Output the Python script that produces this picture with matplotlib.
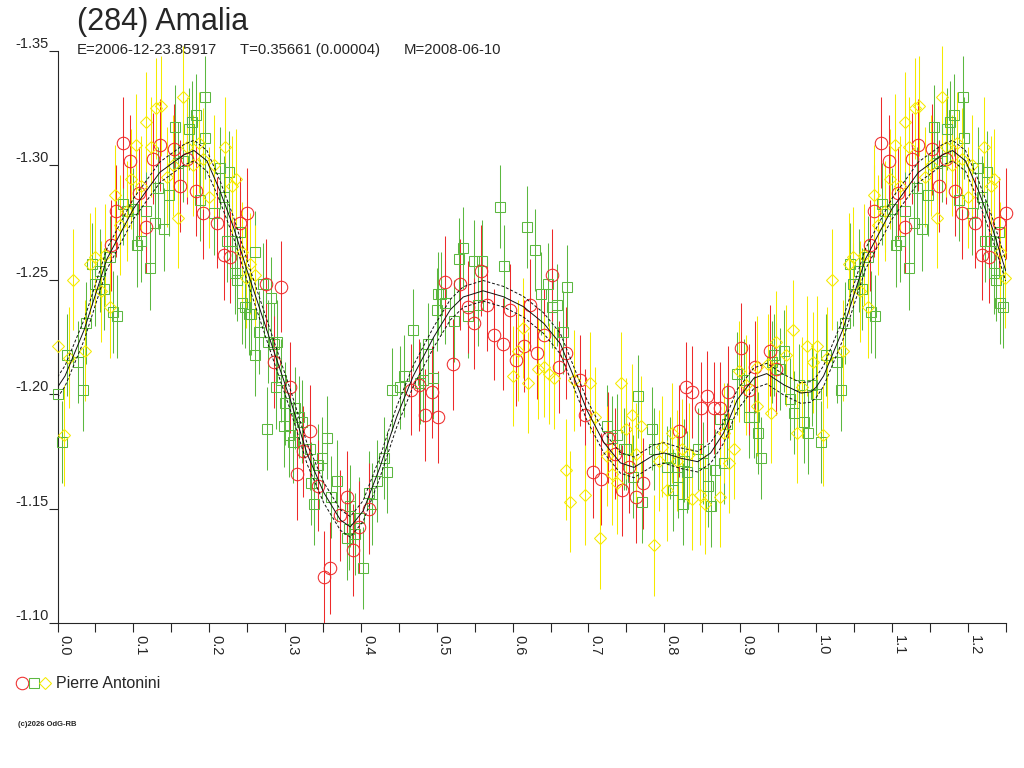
import matplotlib
matplotlib.use("Agg")
import matplotlib.pyplot as plt
from matplotlib.lines import Line2D
import numpy as np

plt.rcParams['font.family'] = ['Liberation Sans', 'DejaVu Sans']

# --- data: phase / magnitude, one set per observing session ---
red_phase = [0.071, 0.077, 0.086, 0.096, 0.108, 0.117, 0.126, 0.135, 0.153, 0.162,
             0.171, 0.183, 0.192, 0.210, 0.219, 0.228, 0.241, 0.250, 0.275, 0.285,
             0.294, 0.307, 0.316, 0.323, 0.333, 0.343, 0.351, 0.359, 0.372, 0.381,
             0.390, 0.398, 0.410, 0.466, 0.476, 0.484, 0.494, 0.501, 0.511, 0.522,
             0.531, 0.541, 0.549, 0.558, 0.566, 0.576, 0.587, 0.596, 0.605, 0.615,
             0.623, 0.632, 0.641, 0.652, 0.661, 0.671, 0.689, 0.696, 0.706, 0.717,
             0.726, 0.735, 0.744, 0.754, 0.763, 0.772, 0.819, 0.828, 0.837, 0.848,
             0.856, 0.865, 0.874, 0.884, 0.901, 0.912, 0.920, 0.939, 0.947]
red_mag = [-1.265, -1.280, -1.310, -1.302, -1.288, -1.273, -1.303, -1.309, -1.307, -1.291,
           -1.303, -1.289, -1.279, -1.275, -1.261, -1.260, -1.275, -1.279, -1.248, -1.214,
           -1.247, -1.203, -1.165, -1.175, -1.184, -1.160, -1.120, -1.124, -1.147, -1.155,
           -1.132, -1.142, -1.150, -1.202, -1.204, -1.191, -1.201, -1.190, -1.249, -1.213,
           -1.248, -1.238, -1.231, -1.254, -1.239, -1.226, -1.222, -1.237, -1.215, -1.221,
           -1.239, -1.218, -1.226, -1.252, -1.212, -1.218, -1.206, -1.191, -1.166, -1.163,
           -1.181, -1.174, -1.158, -1.168, -1.155, -1.161, -1.184, -1.203, -1.201, -1.194,
           -1.199, -1.194, -1.194, -1.201, -1.220, -1.202, -1.212, -1.219, -1.211]

green_phase = [0.000, 0.006, 0.013, 0.027, 0.033, 0.038, 0.045, 0.049, 0.056, 0.061,
               0.069, 0.073, 0.078, 0.087, 0.091, 0.100, 0.105, 0.110, 0.117, 0.122,
               0.129, 0.133, 0.140, 0.147, 0.155, 0.159, 0.166, 0.173, 0.177, 0.182,
               0.188, 0.194, 0.195, 0.206, 0.214, 0.219, 0.223, 0.226, 0.230, 0.234,
               0.237, 0.241, 0.243, 0.247, 0.252, 0.255, 0.261, 0.261, 0.266, 0.271,
               0.276, 0.277, 0.281, 0.285, 0.288, 0.290, 0.294, 0.298, 0.300, 0.305,
               0.310, 0.313, 0.318, 0.322, 0.333, 0.334, 0.338, 0.344, 0.349, 0.355,
               0.360, 0.369, 0.381, 0.384, 0.386, 0.392, 0.397, 0.403, 0.410, 0.415,
               0.421, 0.430, 0.434, 0.441, 0.452, 0.457, 0.469, 0.478, 0.482, 0.489,
               0.495, 0.500, 0.502, 0.505, 0.511, 0.523, 0.529, 0.535, 0.541, 0.549,
               0.554, 0.560, 0.583, 0.589, 0.619, 0.630, 0.637, 0.647, 0.652, 0.659,
               0.666, 0.672, 0.725, 0.731, 0.737, 0.747, 0.749, 0.759, 0.765, 0.771,
               0.784, 0.786, 0.804, 0.808, 0.812, 0.818, 0.825, 0.826, 0.830, 0.844,
               0.851, 0.857, 0.862, 0.867, 0.873, 0.878, 0.883, 0.896, 0.905, 0.911,
               0.918, 0.923, 0.928, 0.942, 0.945, 0.952, 0.958, 0.966, 0.971, 0.977,
               0.984, 0.989, 0.995]
green_mag = [-1.200, -1.179, -1.217, -1.214, -1.202, -1.231, -1.257, -1.248, -1.254, -1.246,
             -1.260, -1.236, -1.234, -1.283, -1.280, -1.281, -1.265, -1.267, -1.280, -1.255,
             -1.275, -1.290, -1.272, -1.287, -1.317, -1.301, -1.302, -1.316, -1.319, -1.322,
             -1.285, -1.330, -1.312, -1.279, -1.299, -1.286, -1.267, -1.297, -1.267, -1.253,
             -1.250, -1.271, -1.240, -1.238, -1.235, -1.235, -1.262, -1.217, -1.227, -1.248,
             -1.185, -1.223, -1.242, -1.222, -1.203, -1.223, -1.206, -1.186, -1.196, -1.182,
             -1.179, -1.194, -1.190, -1.188, -1.176, -1.161, -1.152, -1.169, -1.172, -1.181,
             -1.155, -1.162, -1.137, -1.141, -1.151, -1.139, -1.146, -1.124, -1.157, -1.152,
             -1.162, -1.172, -1.166, -1.202, -1.203, -1.208, -1.228, -1.205, -1.206, -1.222,
             -1.207, -1.237, -1.244, -1.244, -1.240, -1.232, -1.259, -1.264, -1.234, -1.258,
             -1.239, -1.258, -1.282, -1.256, -1.273, -1.263, -1.244, -1.248, -1.238, -1.239,
             -1.227, -1.247, -1.186, -1.181, -1.182, -1.176, -1.176, -1.164, -1.199, -1.153,
             -1.185, -1.176, -1.168, -1.172, -1.158, -1.164, -1.152, -1.171, -1.166, -1.176,
             -1.170, -1.160, -1.151, -1.167, -1.189, -1.170, -1.187, -1.209, -1.206, -1.190,
             -1.190, -1.183, -1.172, -1.214, -1.217, -1.211, -1.219, -1.198, -1.192, -1.204,
             -1.188, -1.183, -1.204]

yellow_phase = [0.001, 0.009, 0.015, 0.021, 0.036, 0.043, 0.049, 0.058, 0.063, 0.069,
                0.076, 0.082, 0.091, 0.097, 0.104, 0.110, 0.117, 0.123, 0.130, 0.136,
                0.144, 0.152, 0.159, 0.166, 0.171, 0.179, 0.186, 0.192, 0.200, 0.206,
                0.221, 0.230, 0.235, 0.243, 0.249, 0.254, 0.261, 0.601, 0.607, 0.614,
                0.620, 0.633, 0.641, 0.648, 0.654, 0.670, 0.676, 0.681, 0.696, 0.702,
                0.709, 0.715, 0.724, 0.731, 0.738, 0.743, 0.750, 0.758, 0.763, 0.769,
                0.786, 0.793, 0.797, 0.804, 0.810, 0.817, 0.823, 0.832, 0.837, 0.847,
                0.853, 0.873, 0.878, 0.885, 0.892, 0.898, 0.908, 0.922, 0.922, 0.936,
                0.940, 0.947, 0.960, 0.970, 0.975, 0.982, 0.988, 0.996]
yellow_mag = [-1.221, -1.182, -1.216, -1.250, -1.219, -1.257, -1.260, -1.245, -1.261, -1.238,
              -1.287, -1.274, -1.280, -1.294, -1.309, -1.291, -1.319, -1.308, -1.325, -1.326,
              -1.295, -1.300, -1.277, -1.330, -1.308, -1.300, -1.310, -1.303, -1.286, -1.300,
              -1.308, -1.291, -1.294, -1.262, -1.251, -1.257, -1.252, -1.208, -1.219, -1.229,
              -1.205, -1.211, -1.212, -1.209, -1.207, -1.167, -1.153, -1.206, -1.156, -1.205,
              -1.190, -1.137, -1.173, -1.165, -1.161, -1.205, -1.185, -1.191, -1.174, -1.186,
              -1.134, -1.171, -1.177, -1.158, -1.183, -1.171, -1.176, -1.174, -1.154, -1.156,
              -1.152, -1.155, -1.183, -1.170, -1.176, -1.210, -1.204, -1.195, -1.212, -1.213,
              -1.192, -1.223, -1.217, -1.228, -1.183, -1.203, -1.221, -1.214]

red_err, green_err, yellow_err = 0.020, 0.018, 0.022

# fitted Fourier curve (phase, mag) and its uncertainty band
fit_phase = [0.000, 0.010, 0.035, 0.065, 0.100, 0.135, 0.166, 0.180, 0.197, 0.214,
             0.232, 0.250, 0.267, 0.285, 0.307, 0.329, 0.351, 0.373, 0.386, 0.403,
             0.425, 0.447, 0.469, 0.496, 0.518, 0.535, 0.561, 0.588, 0.614, 0.641,
             0.663, 0.680, 0.698, 0.720, 0.742, 0.760, 0.786, 0.800, 0.822, 0.844,
             0.861, 0.878, 0.896, 0.918, 0.935, 0.958, 0.980, 0.993, 1.000]
fit_mag = [-1.203, -1.208, -1.228, -1.259, -1.281, -1.297, -1.3045, -1.3065, -1.302, -1.289,
           -1.273, -1.254, -1.237, -1.219, -1.1975, -1.174, -1.157, -1.145, -1.142, -1.149,
           -1.168, -1.190, -1.208, -1.225, -1.237, -1.2425, -1.2452, -1.2426, -1.2383, -1.231,
           -1.222, -1.208, -1.193, -1.179, -1.170, -1.168, -1.1734, -1.1743, -1.172, -1.1705,
           -1.1743, -1.183, -1.1975, -1.207, -1.209, -1.204, -1.2005, -1.201, -1.203]
fit_band = 0.0045

title = "(284) Amalia"
info = ["E=2006-12-23.85917", "T=0.35661 (0.00004)", "M=2008-06-10"]
observer = "Pierre Antonini"

RED, GREEN, YELLOW = '#ee2a2a', '#5cb840', '#f5ea00'
INK = '#262626'


def extend(ph, mag):
    # repeat the first quarter of the cycle after phase 1
    ph = np.asarray(ph)
    mag = np.asarray(mag)
    sel = ph <= 0.25
    return np.concatenate([ph, ph[sel] + 1]), np.concatenate([mag, mag[sel]])


W, H = 1024, 768
fig = plt.figure(figsize=(W / 100, H / 100), dpi=100)
ax = fig.add_axes([57.5 / W, (H - 623) / H, (1005.7 - 57.5) / W, 572 / H])

series = [(green_phase, green_mag, green_err, GREEN, 's', 7),
          (red_phase, red_mag, red_err, RED, 'o', 9),
          (yellow_phase, yellow_mag, yellow_err, YELLOW, 'D', 6)]

for ph, mag, err, col, mk, ms in series:
    x, y = extend(ph, mag)
    ax.errorbar(x, y, yerr=err, fmt='none', ecolor=col, elinewidth=0.75,
                capsize=0, clip_on=False, zorder=2)
for ph, mag, err, col, mk, ms in series:
    x, y = extend(ph, mag)
    ax.plot(x, y, linestyle='none', marker=mk, ms=ms, mfc='none', mec=col,
            mew=0.75, clip_on=False, zorder=3)

fx, fy = extend(fit_phase[:-1], fit_mag[:-1])
order = np.argsort(fx)
fx, fy = fx[order], fy[order]
ax.plot(fx, fy, color='#111111', lw=0.7, zorder=4)
ax.plot(fx, fy - fit_band, color='#111111', lw=0.7, ls=(0, (3, 2)), zorder=4)
ax.plot(fx, fy + fit_band, color='#111111', lw=0.7, ls=(0, (3, 2)), zorder=4)

ax.set_xlim(0, 1.25)
ax.set_ylim(-1.10, -1.35)
for s in ['top', 'right']:
    ax.spines[s].set_visible(False)
for s in ['left', 'bottom']:
    ax.spines[s].set_color(INK)
    ax.spines[s].set_linewidth(0.8)

xt = np.round(np.arange(0, 1.21, 0.1), 2)
ax.set_xticks(xt)
ax.set_xticks(np.round(np.arange(0.05, 1.26, 0.1), 2), minor=True)
ax.set_xticklabels([f"{v:.1f}" for v in xt], rotation=-90, ha='left', va='top',
                   fontsize=10.5, color=INK)
ax.tick_params(axis='x', which='both', direction='out', length=6.5, width=0.8,
               color=INK, pad=2)

yt = [-1.35, -1.30, -1.25, -1.20, -1.15, -1.10]
ax.set_yticks(yt)
ax.set_yticklabels([f"{v:.2f}" for v in yt], fontsize=10.5, color=INK)
ax.tick_params(axis='y', direction='out', length=6.5, width=0.8, color=INK, pad=0)
for lab in ax.get_yticklabels():
    lab.set_va('bottom')

fig.text(77 / W, 1 - 30 / H, title, fontsize=22, color=INK, va='baseline')
for xpos, s in zip([77, 240, 404], info):
    fig.text(xpos / W, 1 - 54 / H, s, fontsize=10.7, color=INK, va='baseline')

# observer key
ly = 1 - 683 / H
for xpos, col, mk, ms in [(22, RED, 'o', 9), (34, GREEN, 's', 7), (45, YELLOW, 'D', 6)]:
    fig.add_artist(Line2D([xpos / W], [ly], transform=fig.transFigure, marker=mk,
                          ms=ms, mfc='none', mec=col, mew=0.75, linestyle='none'))
fig.text(56 / W, ly, observer, fontsize=11.5, color=INK, va='center')
fig.text(18 / W, 1 - 725 / H, "(c)2026 OdG-RB", fontsize=5.5, color=INK,
         va='center', fontweight='bold')

fig.savefig('out.png', dpi=100)
